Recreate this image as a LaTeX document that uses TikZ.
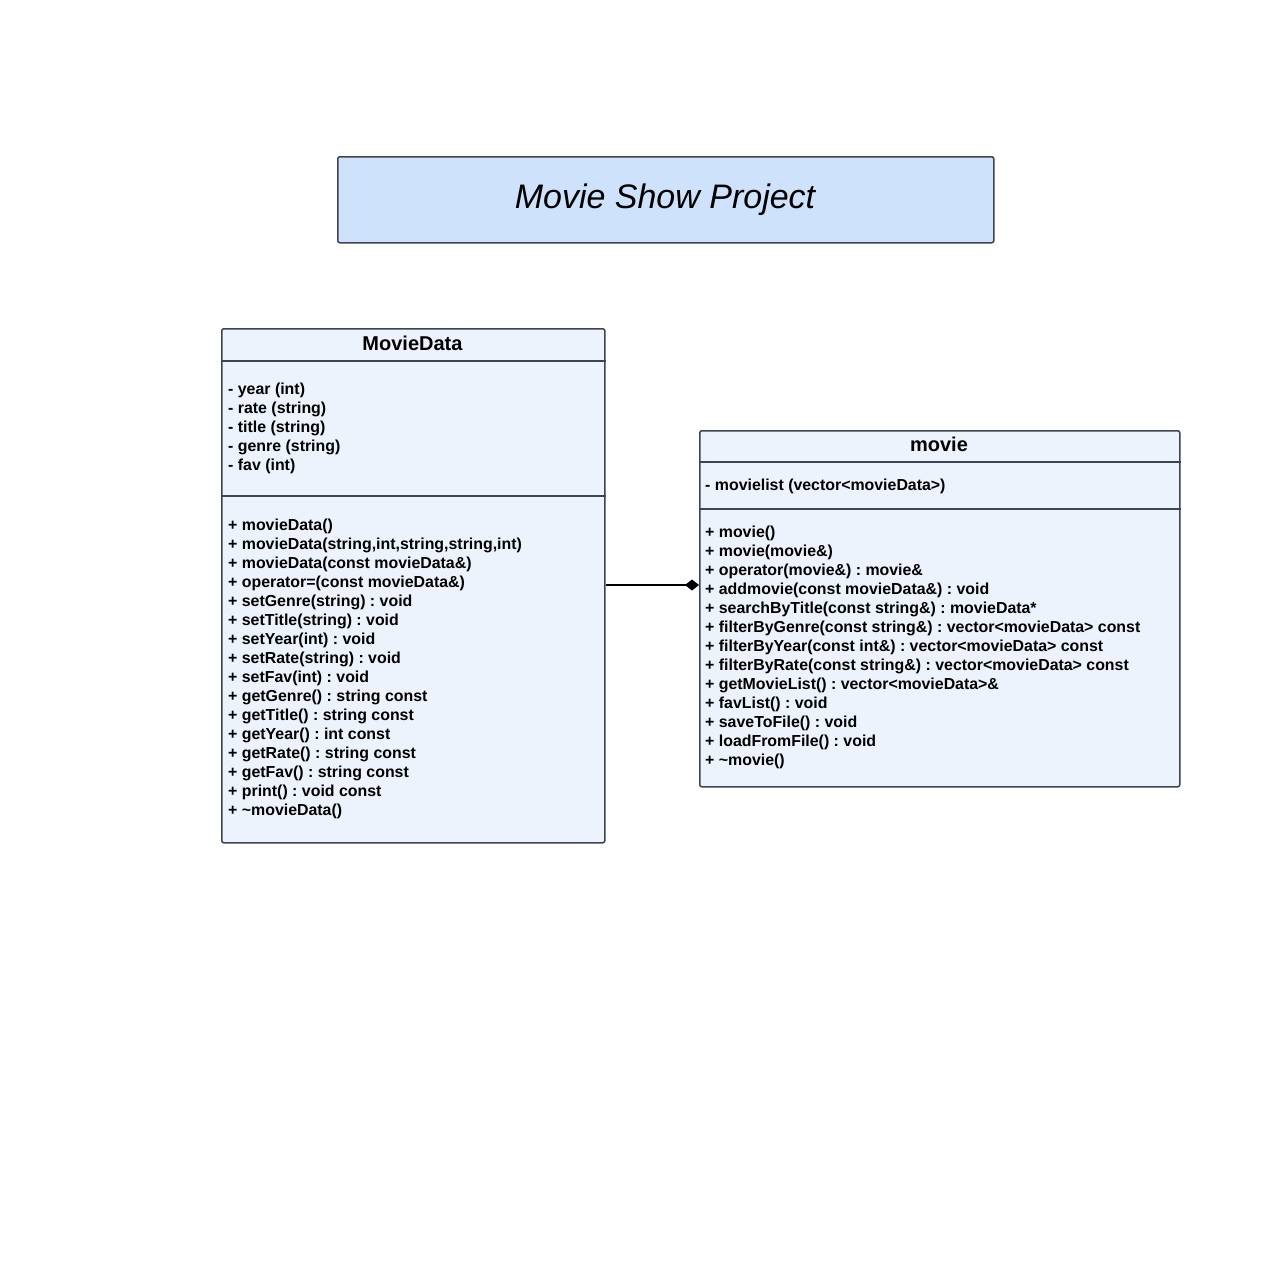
\documentclass[tikz,border=0pt]{standalone}
\usepackage{fontspec}
\setmainfont{Liberation Sans}
\usetikzlibrary{arrows.meta}
\definecolor{titlefill}{HTML}{CFE2FB}
\definecolor{classfill}{HTML}{EDF3FD}
\definecolor{edgecol}{HTML}{3C4550}
\frenchspacing
\begin{document}
\begin{tikzpicture}[x=1pt,y=-1pt,
  box/.style={draw=edgecol, line width=1.5pt, rounded corners=2pt, inner sep=0pt, anchor=north west},
  member/.style={anchor=base west, inner sep=0pt, font=\fontsize{15.9}{19}\selectfont\bfseries},
  header/.style={anchor=base, inner sep=0pt, font=\fontsize{20}{24}\selectfont\bfseries},
  divider/.style={draw=edgecol, line width=1.2pt},
  link/.style={draw=black, line width=1.2pt}]
\useasboundingbox[fill=white] (0,0) rectangle (1280,1280);

% title
\node[box, fill=titlefill, minimum width=656pt, minimum height=86pt] (titlebox) at (337,156) {};
\node[anchor=base, inner sep=0pt, font=\fontsize{34}{40}\selectfont\itshape] (titletext) at (665,208) {Movie Show Project};

% MovieData class
\node[box, fill=classfill, minimum width=383pt, minimum height=514pt] (md) at (221,328) {};
\node[header] (mdname) at (412.5,350) {MovieData};
\draw[divider] (md.west |- 0,361) -- (md.east |- 0,361);
\draw[divider] (md.west |- 0,496) -- (md.east |- 0,496);
\foreach \t [count=\i] in {{- year (int)},{- rate (string)},{- title (string)},{- genre (string)},{- fav (int)}}
  \node[member] (mda\i) at (228,{394+19*(\i-1)}) {\t};
\foreach \t [count=\i] in {{+ movieData()},{+ movieData(string,int,string,string,int)},{+ movieData(const movieData\&)},{+ operator=(const movieData\&)},{+ setGenre(string) : void},{+ setTitle(string) : void},{+ setYear(int) : void},{+ setRate(string) : void},{+ setFav(int) : void},{+ getGenre() : string const},{+ getTitle() : string const},{+ getYear() : int const},{+ getRate() : string const},{+ getFav() : string const},{+ print() : void const},{+ \textasciitilde movieData()}}
  \node[member] (mdm\i) at (228,{530+19*(\i-1)}) {\t};

% movie class
\node[box, fill=classfill, minimum width=480pt, minimum height=356pt] (mv) at (699,430) {};
\node[header] (mvname) at (939,451) {movie};
\draw[divider] (mv.west |- 0,462) -- (mv.east |- 0,462);
\draw[divider] (mv.west |- 0,509) -- (mv.east |- 0,509);
\node[member] (mva1) at (705,490) {- movielist (vector<movieData>)};
\foreach \t [count=\i] in {{+ movie()},{+ movie(movie\&)},{+ operator(movie\&) : movie\&},{+ addmovie(const movieData\&) : void},{+ searchByTitle(const string\&) : movieData*},{+ filterByGenre(const string\&) : vector<movieData> const},{+ filterByYear(const int\&) : vector<movieData> const},{+ filterByRate(const string\&) : vector<movieData> const},{+ getMovieList() : vector<movieData>\&},{+ favList() : void},{+ saveToFile() : void},{+ loadFromFile() : void},{+ \textasciitilde movie()}}
  \node[member] (mvm\i) at (705,{537+19*(\i-1)}) {\t};

% composition connector
\coordinate (cy) at (650,585);
\draw[link, -{Diamond[length=14pt,width=11pt,fill=black]}] (md.east |- cy) -- (mv.west |- cy);
\end{tikzpicture}
\end{document}
